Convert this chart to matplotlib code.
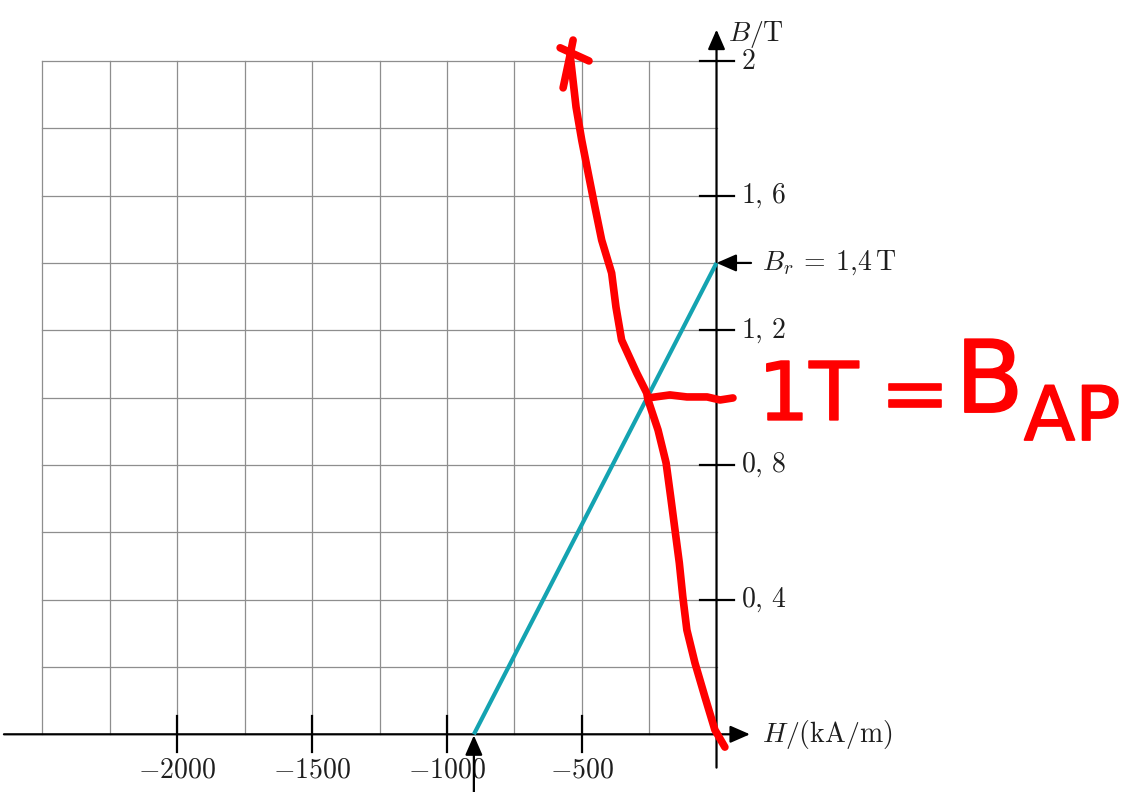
import matplotlib
matplotlib.use("Agg")
import matplotlib.pyplot as plt
import matplotlib.patheffects as pe
import numpy as np

plt.rcParams['mathtext.fontset'] = 'cm'
plt.rcParams['font.family'] = ['DejaVu Sans']

# ---- data ----
x_ticks = [-2000, -1500, -1000, -500]
x_tick_labels = [r"$-2000$", r"$-1500$", r"$-1000$", r"$-500$"]
y_ticks = [0.4, 0.8, 1.2, 1.6, 2.0]
y_tick_labels = [r"$0,\,4$", r"$0,\,8$", r"$1,\,2$", r"$1,\,6$", r"$2$"]

Br = 1.4          # remanence (T)
Hc = -900         # coercive field (kA/m)
line_H = [Hc, 0]
line_B = [0, Br]

# hand-drawn red curve (H in kA/m, B in T)
red_H = [-532, -543, -521, -500, -476, -451, -426, -389, -373, -352, -296,
         -259, -254, -217, -187, -170, -154, -138, -125, -110, -80, -43, -6, 31]
red_B = [2.062, 2.018, 1.863, 1.765, 1.667, 1.566, 1.468, 1.370, 1.269, 1.171,
         1.073, 1.014, 0.993, 0.904, 0.806, 0.705, 0.607, 0.509, 0.408, 0.310,
         0.212, 0.111, 0.013, -0.038]
barb_H = [-543, -569]
barb_B = [2.018, 1.920]
cross_H = [-580, -473]
cross_B = [2.039, 2.000]
mark_H = [-254, -173, -110, -35, 13, 61]
mark_B = [0.999, 1.008, 1.002, 1.002, 0.993, 0.999]

# ---- figure ----
fig = plt.figure(figsize=(11.39, 7.92), dpi=100)
ax = fig.add_axes([0, 0, 1, 1])
ax.set_xlim(-2657.6, 1567.0)
ax.set_ylim(-0.1714, 2.181)
ax.axis('off')

grid_c = '#8e8e8e'
for h in np.arange(-2500, 0, 250):
    ax.plot([h, h], [0, 2], color=grid_c, lw=0.9, zorder=1)
for b in np.arange(0.2, 2.01, 0.2):
    ax.plot([-2500, 0], [b, b], color=grid_c, lw=0.9, zorder=1)

arrow_kw = dict(arrowstyle='-|>,head_length=0.8,head_width=0.35',
                color='black', lw=1.6, shrinkA=0, shrinkB=0, mutation_scale=15)
# axes with arrows
ax.annotate('', xy=(124, 0), xytext=(-2643, 0), arrowprops=arrow_kw, zorder=3)
ax.annotate('', xy=(0, 2.093), xytext=(0, -0.099), arrowprops=arrow_kw, zorder=3)

txt_c = '#1e1e1e'
for t, lab in zip(x_ticks, x_tick_labels):
    ax.plot([t, t], [-0.052, 0.053], color='black', lw=1.6, zorder=3)
    ax.text(t, -0.106, lab, ha='center', va='center', fontsize=20, color=txt_c)
for t, lab in zip(y_ticks, y_tick_labels):
    ax.plot([-61, 66], [t, t], color='black', lw=1.6, zorder=3)
    ax.text(91, t, lab, ha='left', va='center', fontsize=20, color=txt_c)

ax.text(44, 2.080, r"$B/\mathrm{T}$", ha='left', va='center', fontsize=20, color=txt_c)
ax.text(169, 0, r"$H/(\mathrm{kA/m})$", ha='left', va='center', fontsize=20, color=txt_c)

# Br marker arrow and label
ax.annotate('', xy=(0, Br), xytext=(128, Br), arrowprops=arrow_kw, zorder=4)
ax.text(169, Br, r"$B_r\:=\:1{,}4\,\mathrm{T}$", ha='left', va='center',
        fontsize=20, color=txt_c)
# Hc marker arrow
ax.annotate('', xy=(Hc, -0.003), xytext=(Hc, -0.1714), arrowprops=arrow_kw, zorder=4)

# load line
ax.plot(line_H, line_B, color='#14a3b1', lw=3.0, solid_capstyle='butt', zorder=5)

# red hand-drawn annotation
red_kw = dict(color='#ff0000', lw=5.5, solid_capstyle='round', solid_joinstyle='round', zorder=6)
ax.plot(red_H, red_B, **red_kw)
ax.plot(barb_H, barb_B, **red_kw)
ax.plot(cross_H, cross_B, **red_kw)
ax.plot(mark_H, mark_B, **red_kw)

thick = [pe.withStroke(linewidth=1.2, foreground='#ff0000')]
ax.text(154, 0.934, "1T", ha='left', va='baseline', fontsize=58,
        color='#ff0000', path_effects=thick)
ax.text(735, 0.999, "=", ha='center', va='center', fontsize=60,
        color='#ff0000', path_effects=thick)
ax.text(885, 0.957, "B", ha='left', va='baseline', fontsize=72,
        color='#ff0000', path_effects=thick)
ax.text(1140, 0.874, "AP", ha='left', va='baseline', fontsize=54,
        color='#ff0000', path_effects=thick)

fig.savefig('out.png', dpi=100)
